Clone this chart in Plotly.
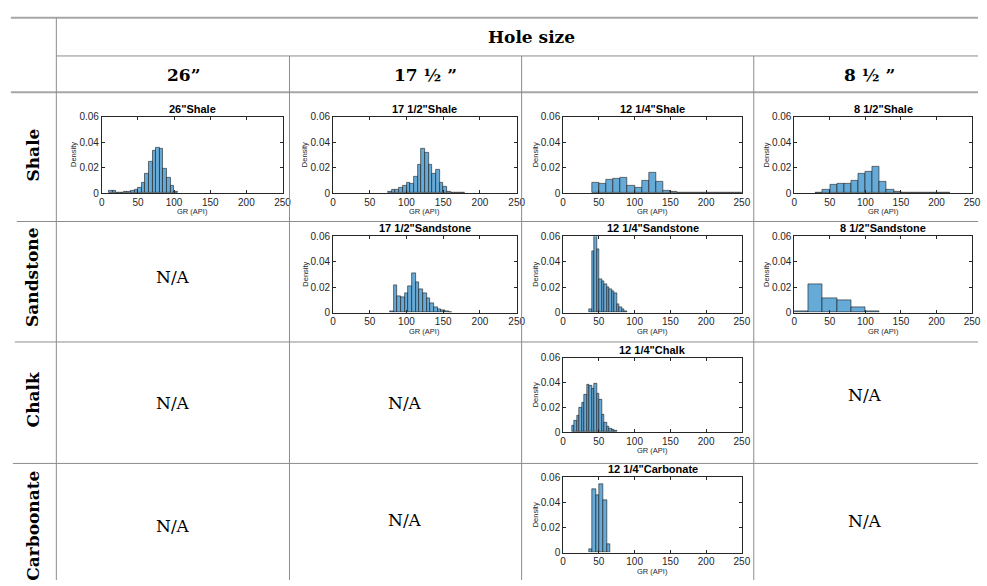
import plotly.graph_objects as go

W, H = 987, 586

# ---------------- data (density per bin, GR in API) ----------------
shale_26_start, shale_26_width = 10, 5
shale_26_density = [0.0018, 0.0018, 0.0, 0.0005, 0.0008, 0.0012, 0.002, 0.003, 0.0045,
                    0.0085, 0.015, 0.025, 0.033, 0.0355, 0.0348, 0.019, 0.012, 0.006, 0.001]

shale_175_start, shale_175_width = 75, 5
shale_175_density = [0.0008, 0.0025, 0.0025, 0.004, 0.0055, 0.0078, 0.0072, 0.0125, 0.0225,
                     0.0345, 0.0315, 0.022, 0.0155, 0.018, 0.0085, 0.005, 0.0012, 0.0, 0.0,
                     0.0, 0.0006]

shale_125_start, shale_125_width = 40, 10
shale_125_density = [0.008, 0.0073, 0.0107, 0.0117, 0.0122, 0.0057, 0.0042, 0.0098, 0.0163,
                     0.0086, 0.0015, 0.0014, 0.0004, 0.0004, 0.0004, 0.0, 0.0005, 0.0, 0.0,
                     0.0004, 0.0004]

shale_85_start, shale_85_width = 30, 10
shale_85_density = [0.0004, 0.003, 0.0065, 0.0075, 0.0076, 0.0101, 0.015, 0.0165, 0.021,
                    0.0086, 0.0023, 0.001, 0.0004, 0.0004, 0.0, 0.0, 0.0004, 0.0, 0.0004]

sand_175_start, sand_175_width = 77.5, 5
sand_175_density = [0.0012, 0.0215, 0.013, 0.012, 0.015, 0.0205, 0.031, 0.024, 0.018,
                    0.0155, 0.011, 0.0075, 0.0045, 0.003, 0.0022, 0.0012, 0.0005]

sand_125_start, sand_125_width = 36.5, 3.5
sand_125_density = [0.003, 0.048, 0.066, 0.05, 0.026, 0.0245, 0.022, 0.02, 0.018, 0.0165,
                    0.015, 0.0065, 0.004, 0.0025, 0.001]

sand_85_start, sand_85_width = 0, 20
sand_85_density = [0.0008, 0.0221, 0.0111, 0.0098, 0.0046, 0.0008]

chalk_125_start, chalk_125_width = 12, 3.5
chalk_125_density = [0.005, 0.009, 0.0135, 0.02, 0.024, 0.03, 0.0385, 0.0375, 0.035, 0.039,
                     0.031, 0.026, 0.014, 0.008, 0.0045, 0.003, 0.002, 0.001]

carb_125_start, carb_125_width = 36, 5
carb_125_density = [0.0025, 0.0505, 0.046, 0.0545, 0.042, 0.0065]

panel_titles = ['26"Shale', '17 1/2"Shale', '12 1/4"Shale', '8 1/2"Shale',
                '17 1/2"Sandstone', '12 1/4"Sandstone', '8 1/2"Sandstone',
                '12 1/4"Chalk', '12 1/4"Carbonate']
x_ticks = [0, 50, 100, 150, 200, 250]
y_ticks = [0, 0.02, 0.04, 0.06]
y_tick_labels = ["0", "0.02", "0.04", "0.06"]
x_label = "GR (API)"
y_label = "Density"

header_title = "Hole size"
hole_sizes = ["26\u201d", "17 \u00bd \u201d", "", "8 \u00bd \u201d"]
lithologies = ["Shale", "Sandstone", "Chalk", "Carboonate"]
na_text = "N/A"

# ---------------- layout (pixel geometry) ----------------
cols_box = [(100, 283), (334, 520), (567, 748), (801, 981)]
rows_box = [(113, 191), (235, 313), (359, 435), (481, 558)]

panels = [
    (shale_26_start, shale_26_width, shale_26_density, 0, 0),
    (shale_175_start, shale_175_width, shale_175_density, 0, 1),
    (shale_125_start, shale_125_width, shale_125_density, 0, 2),
    (shale_85_start, shale_85_width, shale_85_density, 0, 3),
    (sand_175_start, sand_175_width, sand_175_density, 1, 1),
    (sand_125_start, sand_125_width, sand_125_density, 1, 2),
    (sand_85_start, sand_85_width, sand_85_density, 1, 3),
    (chalk_125_start, chalk_125_width, chalk_125_density, 2, 2),
    (carb_125_start, carb_125_width, carb_125_density, 3, 2),
]

BAR_COLOR = "rgb(102,170,215)"
AX_COLOR = "#262626"
SANS = "Liberation Sans, Arial, sans-serif"
SERIF = "DejaVu Serif, serif"

fig = go.Figure()
layout = dict(width=W, height=H, margin=dict(l=0, r=0, t=0, b=0), autosize=False,
              paper_bgcolor="white", plot_bgcolor="white", showlegend=False,
              bargap=0)
annotations = []
shapes = []

def px(x):
    return x / W

def py(y):
    return 1 - y / H

for i, (start, bw, dens, r, c) in enumerate(panels):
    k = i + 1
    xa = "x" if k == 1 else f"x{k}"
    ya = "y" if k == 1 else f"y{k}"
    centers = [start + bw * (j + 0.5) for j in range(len(dens))]
    fig.add_trace(go.Bar(x=centers, y=dens, width=[bw] * len(dens), xaxis=xa, yaxis=ya,
                         marker=dict(color=BAR_COLOR, line=dict(color="#1a1a1a", width=0.6)),
                         hoverinfo="skip"))
    l, rr = cols_box[c]
    t, b = rows_box[r]
    common = dict(showgrid=False, zeroline=False, ticks="inside", ticklen=3, tickwidth=0.8,
                  tickcolor=AX_COLOR, showline=True, linecolor=AX_COLOR, linewidth=0.8,
                  mirror="allticks", tickfont=dict(family=SANS, size=10, color=AX_COLOR),
                  fixedrange=True)
    layout["xaxis" if k == 1 else f"xaxis{k}"] = dict(
        domain=[px(l), px(rr)], range=[0, 250], tickvals=x_ticks, anchor=ya, **common)
    layout["yaxis" if k == 1 else f"yaxis{k}"] = dict(
        domain=[py(b), py(t)], range=[0, 0.06], tickvals=y_ticks, ticktext=y_tick_labels,
        anchor=xa, **common)
    annotations.append(dict(x=px((l + rr) / 2), y=py(t - 8), xref="paper", yref="paper",
                            text=f"<b>{panel_titles[i]}</b>", showarrow=False,
                            font=dict(family=SANS, size=11, color="black"),
                            xanchor="center", yanchor="middle"))
    annotations.append(dict(x=px(l - 28), y=py((t + b) / 2), xref="paper", yref="paper",
                            text=y_label, showarrow=False, textangle=-90,
                            font=dict(family=SANS, size=7.5, color=AX_COLOR),
                            xanchor="center", yanchor="middle"))
    annotations.append(dict(x=px((l + rr) / 2), y=py(b + 19), xref="paper", yref="paper",
                            text=x_label, showarrow=False,
                            font=dict(family=SANS, size=7.5, color=AX_COLOR),
                            xanchor="center", yanchor="middle"))

# ---------------- table text ----------------
def txt(x, y, s, size, bold=False, angle=0):
    annotations.append(dict(x=px(x), y=py(y), xref="paper", yref="paper",
                            text=f"<b>{s}</b>" if bold else s, showarrow=False,
                            textangle=angle, font=dict(family=SERIF, size=size, color="black"),
                            xanchor="center", yanchor="middle"))

txt(535, 32, header_title, 17, bold=True)
for xc, s in zip([183, 428, 643, 877], hole_sizes):
    if s:
        txt(xc, 70, s, 17, bold=True)
for yc, s in zip([152, 277, 402, 531], lithologies):
    txt(30, yc, s, 17, bold=True, angle=-90)

na_cells = [(172, 277), (172, 405), (407, 405), (873, 397), (172, 531), (407, 525), (873, 526)]
for xc, yc in na_cells:
    txt(xc, yc, na_text, 17)

# ---------------- table lines ----------------
def hline(y, x0, x1, color, w):
    shapes.append(dict(type="line", xref="paper", yref="paper", x0=px(x0), x1=px(x1),
                       y0=py(y), y1=py(y), line=dict(color=color, width=w), layer="above"))

def vline(x, y0, y1, color, w):
    shapes.append(dict(type="line", xref="paper", yref="paper", x0=px(x), x1=px(x),
                       y0=py(y0), y1=py(y1), line=dict(color=color, width=w), layer="above"))

hline(12, 8, 987, "#a6a6a6", 2)
hline(51, 54, 987, "#8c8c8c", 1)
hline(88, 8, 987, "#a6a6a6", 2)
hline(220, 14, 987, "#8c8c8c", 1)
hline(343, 12, 987, "#8c8c8c", 1)
hline(467, 10, 987, "#8c8c8c", 1)
vline(54, 12, 586, "#8c8c8c", 1)
for xv in [290, 525, 760]:
    vline(xv, 51, 586, "#8c8c8c", 1)

layout["annotations"] = annotations
layout["shapes"] = shapes
fig.update_layout(**layout)
fig.write_html("out.html")
